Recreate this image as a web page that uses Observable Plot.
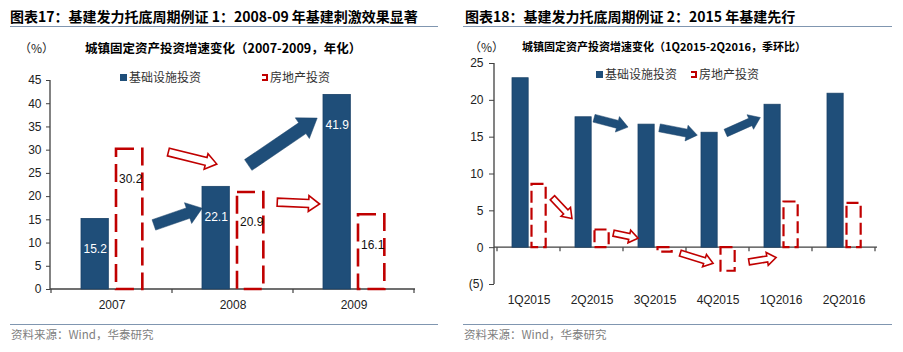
<!DOCTYPE html>
<html><head><meta charset="utf-8">
<script src="https://cdn.jsdelivr.net/npm/d3@7"></script>
<script src="https://cdn.jsdelivr.net/npm/@observablehq/plot@0.6"></script>
<style>
body{margin:0;background:#fff;width:903px;height:352px;position:relative;overflow:hidden;font-family:"Noto Sans CJK SC","Liberation Sans",sans-serif;}
.abs{position:absolute;white-space:nowrap;line-height:1;}
</style></head>
<body>
<script>
// ---------- data ----------
const titleL = "图表17：基建发力托底周期例证 1：2008-09 年基建刺激效果显著";
const titleR = "图表18：基建发力托底周期例证 2：2015 年基建先行";
const subL = "城镇固定资产投资增速变化（2007-2009，年化）";
const subR = "城镇固定资产投资增速变化（1Q2015-2Q2016，季环比）";
const unitText = "（%）";
const seriesNames = ["基础设施投资", "房地产投资"];
const sourceText = "资料来源：Wind，华泰研究";

const catsL = ["2007", "2008", "2009"];
const infraL = [15.2, 22.1, 41.9];
const realL = [30.2, 20.9, 16.1];
const yTicksL = [0, 5, 10, 15, 20, 25, 30, 35, 40, 45];

const catsR = ["1Q2015", "2Q2015", "3Q2015", "4Q2015", "1Q2016", "2Q2016"];
const infraR = [23.0, 17.7, 16.7, 15.6, 19.4, 20.9];
const realR = [8.6, 2.4, -0.6, -3.2, 6.2, 6.0];
const yTicksR = [-5, 0, 5, 10, 15, 20, 25];

// trend arrows: [category position, value] -> [category position, value]
const arrowsInfraL = [[[0.85, 13.8], [1.25, 17.4]], [[1.63, 26.7], [2.2, 36.8]]];
const arrowsRealL = [[[0.97, 29.5], [1.37, 26.9]], [[1.87, 18.7], [2.22, 18.3]]];
const arrowsInfraR = [[[1.54, 17.5], [2.08, 16.3]], [[2.58, 16.2], [3.18, 15.2]], [[3.63, 15.5], [4.18, 17.6]]];
const arrowsRealR = [[[0.88, 6.7], [1.19, 3.9]], [[1.85, 1.9], [2.24, 1.2]], [[2.91, -0.8], [3.43, -2.2]], [[4.0, -2.0], [4.43, -1.4]]];

// ---------- style ----------
const BLUE = "#1f4e79", RED = "#c00000", AXIS = "#404040", RULE = "#8096b0";

function el(tag, css, text, parent) {
  const e = document.createElement(tag);
  e.className = "abs";
  Object.assign(e.style, css);
  if (text != null) e.textContent = text;
  (parent || document.body).appendChild(e);
  return e;
}

function arrowPath(x0, y0, x1, y1, sw, hw, hl) {
  const dx = x1 - x0, dy = y1 - y0, L = Math.hypot(dx, dy);
  const ux = dx / L, uy = dy / L, nx = -uy, ny = ux;
  const bx = x1 - ux * hl, by = y1 - uy * hl;
  const p = [[x0 + nx * sw / 2, y0 + ny * sw / 2], [bx + nx * sw / 2, by + ny * sw / 2], [bx + nx * hw / 2, by + ny * hw / 2],
    [x1, y1], [bx - nx * hw / 2, by - ny * hw / 2], [bx - nx * sw / 2, by - ny * sw / 2], [x0 - nx * sw / 2, y0 - ny * sw / 2]];
  return "M" + p.map(q => q.map(v => v.toFixed(2)).join(",")).join("L") + "Z";
}

function panel(o) {
  const off = o.left;
  // title + rule
  el("div", {left: (off + o.titleX) + "px", top: "9px", fontSize: "14px", fontWeight: "bold", color: "#000"}, o.title);
  el("div", {left: (off + o.ruleX) + "px", top: "26px", width: o.ruleW + "px", height: "1px", background: RULE});
  // unit + chart title
  el("div", {left: (off + o.unitX) + "px", top: (o.subY - 6) + "px", fontSize: "12px", color: "#222"}, unitText);
  el("div", {left: (off + o.subX) + "px", top: (o.subY - 6) + "px", fontSize: o.subSize + "px", fontWeight: "bold", color: "#000"}, o.sub);
  // legend
  el("div", {left: (off + o.legX[0]) + "px", top: (o.legY - 3.5) + "px", width: "7px", height: "7px", background: BLUE});
  el("div", {left: (off + o.legX[0] + 9) + "px", top: (o.legY - 6.5) + "px", fontSize: "12px", color: "#333"}, seriesNames[0]);
  el("div", {left: (off + o.legX[1]) + "px", top: (o.legY - 3.5) + "px", width: "4px", height: "3px", border: "2px solid " + RED, borderLeft: "none"});
  el("div", {left: (off + o.legX[1] + 8) + "px", top: (o.legY - 6.5) + "px", fontSize: "12px", color: "#333"}, seriesNames[1]);
  // footer
  el("div", {left: (off + o.ruleX) + "px", top: "324px", width: o.ruleW + "px", height: "1px", background: RULE});
  el("div", {left: (off + o.ruleX + 1) + "px", top: "329px", fontSize: "11.5px", color: "#808080"}, sourceText);

  const infra = o.cats.map((c, i) => ({cat: c, v: o.infra[i]}));
  const real = o.cats.map((c, i) => ({cat: c, v: o.real[i]}));
  const W = 440, H = o.h;
  const bw = (W - o.ml - o.mr) / o.cats.length;
  const marks = [
    Plot.barY(infra, {x: "cat", y: "v", fill: BLUE, stroke: "#1a4268", strokeWidth: 0.8,
      insetLeft: o.infraIn, insetRight: bw - o.infraIn - o.barW}),
    Plot.barY(real, {x: "cat", y: "v", fill: "none", stroke: RED, strokeWidth: o.dashW, strokeDasharray: o.dash,
      insetLeft: o.realIn, insetRight: bw - o.realIn - o.barW2}),
    Plot.axisY({ticks: o.yTicks, tickSize: o.yTickSize, tickPadding: o.yTickPad, tickFormat: o.fmt, label: null, stroke: AXIS}),
    Plot.axisX({tickSize: 0, tickPadding: 11, label: null})
  ];
  if (o.labels) {
    marks.push(Plot.text(infra, {x: "cat", y: "v", text: d => d.v.toFixed(1), dx: o.infraIn + o.barW / 2 - bw / 2, dy: 30, fill: "#fff", fontSize: 12}));
    marks.push(Plot.text(real, {x: "cat", y: "v", text: d => d.v.toFixed(1), dx: o.realIn + o.barW2 / 2 - bw / 2 + 1, dy: 30, fill: "#111", fontSize: 12}));
  }
  const plot = Plot.plot({
    width: W, height: H, marginLeft: o.ml, marginRight: o.mr, marginTop: o.mt, marginBottom: o.mb,
    style: {fontFamily: "'Liberation Sans', Arial, sans-serif", fontSize: "12px", color: "#222", background: "transparent", overflow: "visible"},
    x: {domain: o.cats, padding: 0, label: null, axis: null},
    y: {domain: o.yDomain, label: null, axis: null},
    marks
  });
  const wrap = el("div", {left: off + "px", top: o.top + "px", width: W + "px", height: H + "px"});
  wrap.appendChild(plot);

  const sx = plot.scale("x"), sy = plot.scale("y");
  const band = sx.bandwidth != null ? sx.bandwidth : bw;
  const px = pos => { const i = Math.min(Math.floor(pos), o.cats.length - 1); return sx.apply(o.cats[i]) + (pos - i) * band; };
  // axis lines go underneath the bars
  const ga = d3.select(plot).insert("g", "g");
  const g = d3.select(plot).append("g");
  const y0 = sy.apply(0);
  const x0 = o.ml, x1 = W - o.mr;
  ga.append("line").attr("x1", x0).attr("x2", x0).attr("y1", sy.apply(o.yDomain[1])).attr("y2", sy.apply(o.yDomain[0]))
    .attr("stroke", AXIS).attr("stroke-width", 1.3);
  ga.append("line").attr("x1", x0).attr("x2", x1).attr("y1", y0).attr("y2", y0).attr("stroke", AXIS).attr("stroke-width", 1.3);
  for (let i = 0; i <= o.cats.length; i++) {
    const x = i < o.cats.length ? sx.apply(o.cats[i]) : sx.apply(o.cats[i - 1]) + band;
    ga.append("line").attr("x1", x).attr("x2", x).attr("y1", y0).attr("y2", y0 + 4).attr("stroke", AXIS).attr("stroke-width", 1.2);
  }
  // arrows
  o.arrowsInfra.forEach(([a, b], k) => {
    const s = o.blueSize[k] || o.blueSize[0];
    g.append("path").attr("d", arrowPath(px(a[0]), sy.apply(a[1]), px(b[0]), sy.apply(b[1]), s[0], s[1], s[2]))
      .attr("fill", BLUE).attr("stroke", "#1a4268").attr("stroke-width", 0.5);
  });
  o.arrowsReal.forEach(([a, b]) => {
    const s = o.redSize;
    g.append("path").attr("d", arrowPath(px(a[0]), sy.apply(a[1]), px(b[0]), sy.apply(b[1]), s[0], s[1], s[2]))
      .attr("fill", "#fff").attr("stroke", RED).attr("stroke-width", 1.6).attr("stroke-linejoin", "miter");
  });
}

panel({
  left: 0, title: titleL, sub: subL, titleX: 10, ruleX: 10, ruleW: 428,
  unitX: 19, subX: 85, subY: 48, subSize: 12.5, legX: [120, 262], legY: 77,
  cats: catsL, infra: infraL, real: realL, yTicks: yTicksL, yDomain: [0, 45], fmt: d => d,
  top: 60, h: 255, ml: 50, mr: 25, mt: 20, mb: 26,
  infraIn: 30, barW: 28, realIn: 65, barW2: 27, dashW: 2.6, dash: "18,7",
  yTickSize: 4, yTickPad: 5, labels: true,
  arrowsInfra: arrowsInfraL, arrowsReal: arrowsRealL,
  blueSize: [[11, 22, 15], [13, 25, 18]], redSize: [8, 16, 11]
});

panel({
  left: 450, title: titleR, sub: subR, titleX: 15, ruleX: 13, ruleW: 429,
  unitX: 19, subX: 72, subY: 47, subSize: 11, legX: [146, 241], legY: 74,
  cats: catsR, infra: infraR, real: realR, yTicks: yTicksR, yDomain: [-5, 25], fmt: d => d < 0 ? `(${-d})` : d,
  top: 55, h: 260, ml: 44, mr: 13, mt: 8, mb: 31,
  infraIn: 15, barW: 17, realIn: 34.5, barW2: 15, dashW: 2.2, dash: "12,5",
  yTickSize: 5, yTickPad: 6, labels: false,
  arrowsInfra: arrowsInfraR, arrowsReal: arrowsRealR,
  blueSize: [[8, 16, 11]], redSize: [6, 13, 9]
});
</script>
</body></html>
